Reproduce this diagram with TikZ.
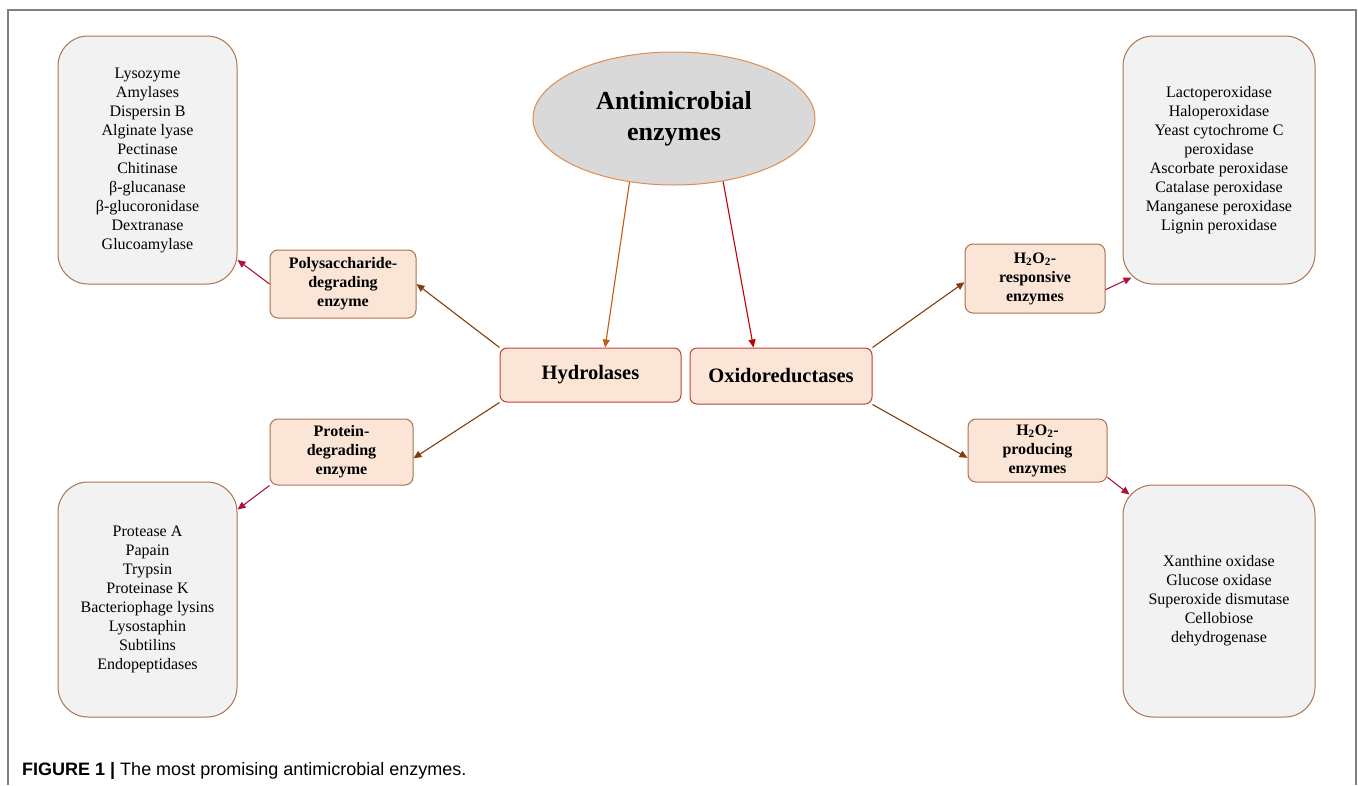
\documentclass[tikz,border=0pt]{standalone}
\usepackage{fontspec}
\setmainfont{Liberation Serif}
\newfontfamily\capfont{Liberation Sans}
\usetikzlibrary{shapes.geometric,arrows.meta}

\definecolor{ellgray}{RGB}{217,217,217}
\definecolor{ellborder}{RGB}{222,140,80}
\definecolor{peach}{RGB}{251,229,214}
\definecolor{classred}{RGB}{192,64,64}
\definecolor{boxbrown}{RGB}{170,115,80}
\definecolor{listgray}{RGB}{242,242,242}
\definecolor{arrorange}{RGB}{197,90,17}
\definecolor{arrred}{RGB}{192,0,0}
\definecolor{arrbrown}{RGB}{132,60,12}
\definecolor{arrcrimson}{RGB}{170,20,60}
\definecolor{framegray}{RGB}{128,128,128}

\begin{document}
\begin{tikzpicture}[x=1pt, y=-1pt,
	sz/.style 2 args = {minimum width=#1pt, minimum height=#2pt},
	root/.style = {ellipse, draw=ellborder, fill=ellgray, line width=1pt, inner sep=0pt, align=center, font=\fontsize{26}{31}\selectfont\bfseries},
	classbox/.style = {draw=classred, fill=peach, rounded corners=7pt, line width=1pt, inner sep=0pt, align=center, font=\fontsize{20.5}{24}\selectfont\bfseries},
	groupbox/.style = {draw=boxbrown, fill=peach, rounded corners=8pt, line width=1pt, inner sep=0pt, align=center, font=\fontsize{16}{19}\selectfont\bfseries},
	listbox/.style = {draw=boxbrown, fill=listgray, rounded corners=30pt, line width=1pt, inner sep=0pt, align=center, font=\fontsize{16}{19}\selectfont},
	link/.style = {-{Triangle[length=8pt,width=7pt]}, line width=1.1pt, draw=#1}]

	\useasboundingbox (0,0) rectangle (1358,785);
	\draw[framegray, line width=1.5pt] (8,785) -- (8,10) -- (1356,10) -- (1356,785);

	\node[root, sz={282}{133}] (ell) at (674,118.5) {Antimicrobial\\enzymes};

	\node[classbox, sz={181}{54}] (hyd) at (590.5,375) {Hydrolases};
	\node[classbox, sz={182}{56}] (oxi) at (781,376) {Oxidoreductases};

	\node[groupbox, sz={146}{68}] (poly) at (343,284) {Polysaccharide-\\degrading\\enzyme};
	\node[groupbox, sz={143}{66}] (prot) at (341.5,452) {Protein-\\degrading\\enzyme};
	\node[groupbox, sz={140}{69}] (resp) at (1035,278.5) {H\textsubscript{2}O\textsubscript{2}-\\responsive\\enzymes};
	\node[groupbox, sz={139}{63}] (prod) at (1037.5,450.5) {H\textsubscript{2}O\textsubscript{2}-\\producing\\enzymes};

	\node[listbox, sz={179}{248}] (tl) at (147.5,160) {Lysozyme\\Amylases\\Dispersin B\\Alginate lyase\\Pectinase\\Chitinase\\β-glucanase\\β-glucoronidase\\Dextranase\\Glucoamylase};
	\node[listbox, sz={179}{235}] (bl) at (147.5,599.5) {Protease A\\Papain\\Trypsin\\Proteinase K\\Bacteriophage lysins\\Lysostaphin\\Subtilins\\Endopeptidases};
	\node[listbox, sz={192}{248}] (tr) at (1219,160) {Lactoperoxidase\\Haloperoxidase\\Yeast cytochrome C\\peroxidase\\Ascorbate peroxidase\\Catalase peroxidase\\Manganese peroxidase\\Lignin peroxidase};
	\node[listbox, sz={192}{232}] (br) at (1219,601) {Xanthine oxidase\\Glucose oxidase\\Superoxide dismutase\\Cellobiose\\dehydrogenase};

	\node[anchor=base west, inner sep=0pt, font=\capfont\fontsize{18}{21}\selectfont] (cap) at (22,775) {\textbf{FIGURE 1 |} The most promising antimicrobial enzymes.};

	\draw[link=arrorange] (ell.235) -- (hyd.62);
	\draw[link=arrred] (ell.-52) -- (oxi.134);

	\draw[link=arrbrown] (hyd.north west) -- (poly.east);
	\draw[link=arrbrown] (hyd.south west) -- (prot.-5);
	\draw[link=arrbrown] (oxi.north east) -- (resp.183);
	\draw[link=arrbrown] (oxi.south east) -- (prod.186);

	\draw[link=arrcrimson] (poly.west) -- (tl.-48);
	\draw[link=arrcrimson] (prot.south west) -- (bl.45);
	\draw[link=arrcrimson] (resp.-9) -- ([shift={(9,-7)}]tr.south west);
	\draw[link=arrcrimson] (prod.-21) -- ([shift={(7,10)}]br.north west);
\end{tikzpicture}
\end{document}
